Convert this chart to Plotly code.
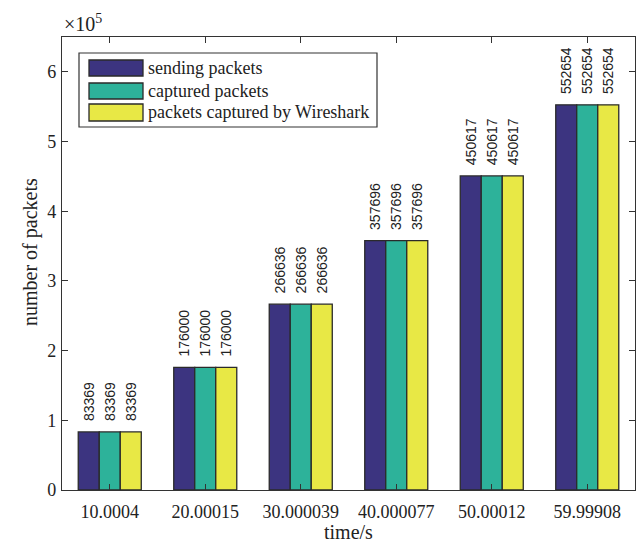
import plotly.graph_objects as go

categories = ["10.0004", "20.00015", "30.000039", "40.000077", "50.00012", "59.99908"]
sending = [83369, 176000, 266636, 357696, 450617, 552654]
captured = [83369, 176000, 266636, 357696, 450617, 552654]
wireshark = [83369, 176000, 266636, 357696, 450617, 552654]
series_names = ["sending packets", "captured packets", "packets captured by Wireshark"]
colors = ["#3C3480", "#2DB29A", "#E8E845"]
ytick_vals = [0, 100000, 200000, 300000, 400000, 500000, 600000]
ytick_text = ["0", "1", "2", "3", "4", "5", "6"]

W, H = 640, 547
L, R, T, B = 62, 5, 37, 57
pw, ph = W - L - R, H - T - B

def px(x):
    return (x - L) / pw

def py(y):
    return 1 - (y - T) / ph

fig = go.Figure()
for name, vals, c in zip(series_names, [sending, captured, wireshark], colors):
    fig.add_trace(go.Bar(
        x=categories, y=vals, name=name,
        marker=dict(color=c, line=dict(color="#2a2a2a", width=1.3)),
        text=["\u00a0\u00a0" + str(v) for v in vals], textposition="outside", textangle=-90,
        textfont=dict(family="Liberation Sans", size=14, color="#222"),
        constraintext="none", cliponaxis=False, showlegend=False,
    ))

fig.update_layout(
    width=W, height=H,
    margin=dict(l=L, r=R, t=T, b=B),
    barmode="group", bargap=0.34, bargroupgap=0,
    plot_bgcolor="white", paper_bgcolor="white",
    font=dict(family="Liberation Serif", size=18, color="#222"),
)
fig.update_xaxes(
    showline=True, linecolor="#333", linewidth=1.2, mirror="ticks",
    ticks="inside", ticklen=6, tickcolor="#333",
    tickfont=dict(family="Liberation Serif", size=18), ticklabelstandoff=5,
    showgrid=False, automargin=False,
)
fig.update_yaxes(
    range=[0, 650000], tickvals=ytick_vals, ticktext=ytick_text,
    showline=True, linecolor="#333", linewidth=1.2, mirror="ticks",
    ticks="inside", ticklen=6, tickcolor="#333",
    tickfont=dict(family="Liberation Serif", size=18), ticklabelstandoff=1,
    showgrid=False, zeroline=False, automargin=False,
)

# axis titles
fig.add_annotation(xref="paper", yref="paper", x=px(348), y=py(532), xanchor="center", yanchor="middle",
                   text="time/s", showarrow=False,
                   font=dict(family="Liberation Serif", size=20, color="#222"))
fig.add_annotation(xref="paper", yref="paper", x=px(30), y=py(252), xanchor="center", yanchor="middle",
                   text="number of packets", textangle=-90, showarrow=False,
                   font=dict(family="Liberation Serif", size=20, color="#222"))

# exponent label
fig.add_annotation(xref="paper", yref="paper", x=0, y=1, xanchor="left", yanchor="bottom",
                   text="×10<sup>5</sup>", showarrow=False,
                   font=dict(family="Liberation Serif", size=20, color="#222"), yshift=0)

# custom legend
fig.add_shape(type="rect", xref="paper", yref="paper",
              x0=px(79), x1=px(377), y0=py(53), y1=py(127),
              line=dict(color="#333", width=1.2), fillcolor="white", layer="above")
rows = [(60, 76), (83, 99), (104, 121)]
for (y0, y1), name, c in zip(rows, series_names, colors):
    fig.add_shape(type="rect", xref="paper", yref="paper",
                  x0=px(89), x1=px(143), y0=py(y0), y1=py(y1),
                  line=dict(color="#2a2a2a", width=1.3), fillcolor=c, layer="above")
    fig.add_annotation(xref="paper", yref="paper", x=px(146), y=py((y0 + y1) / 2),
                       xanchor="left", yanchor="middle", text=name, showarrow=False,
                       font=dict(family="Liberation Serif", size=18, color="#222"))

fig.write_html("out.html", config={"displayModeBar": False},
               post_script="document.body.style.margin='0';document.body.style.overflow='hidden';")
